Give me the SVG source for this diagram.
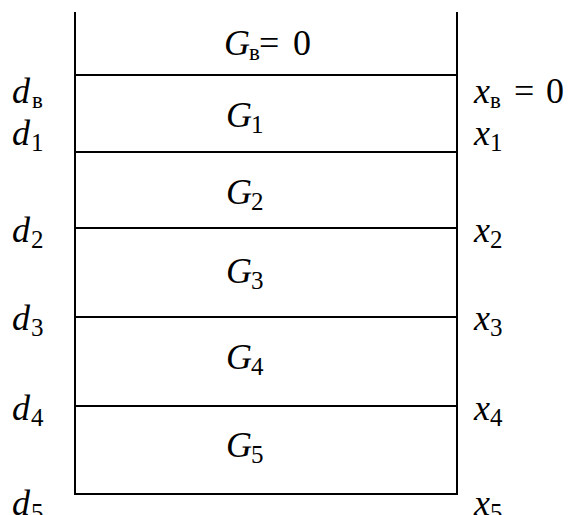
<svg xmlns="http://www.w3.org/2000/svg" width="569" height="515" viewBox="0 0 569 515">
<style>
  text { font-family: "Liberation Serif", "Times New Roman", serif; fill: #000; }
  .m { font-size: 36px; }
  .i { font-style: italic; }
  .n { font-style: normal; }
  .s { font-size: 25px; font-style: normal; }
  .c { font-size: 23px; font-style: normal; }
  .ln { stroke: #000; stroke-width: 2; fill: none; }
</style>
<rect width="569" height="515" fill="#fff"/>
<g id="connectors">
  <line class="ln" x1="75" y1="12" x2="75" y2="495"/>
  <line class="ln" x1="457" y1="12" x2="457" y2="495"/>
  <line class="ln" x1="75" y1="75" x2="457" y2="75"/>
  <line class="ln" x1="75" y1="152" x2="457" y2="152"/>
  <line class="ln" x1="75" y1="228" x2="457" y2="228"/>
  <line class="ln" x1="75" y1="317" x2="457" y2="317"/>
  <line class="ln" x1="75" y1="406" x2="457" y2="406"/>
  <line class="ln" x1="74" y1="494" x2="458" y2="494"/>
</g>
<g id="layer-top">
  <text class="m i" x="224" y="55">G<tspan class="c" x="249" y="60">в</tspan><tspan class="m n" x="259" y="55">=</tspan><tspan class="m n" x="293" y="55">0</tspan></text>
</g>
<g id="layer-1"><text class="m i" x="226" y="127">G<tspan class="s" x="251" y="133">1</tspan></text></g>
<g id="layer-2"><text class="m i" x="226" y="204">G<tspan class="s" x="251" y="210">2</tspan></text></g>
<g id="layer-3"><text class="m i" x="226" y="283">G<tspan class="s" x="251" y="289">3</tspan></text></g>
<g id="layer-4"><text class="m i" x="226" y="369">G<tspan class="s" x="251" y="375">4</tspan></text></g>
<g id="layer-5"><text class="m i" x="226" y="457">G<tspan class="s" x="251" y="463">5</tspan></text></g>
<g id="depth-labels">
  <text class="m i" x="12" y="103">d<tspan class="c" x="32" y="108">в</tspan></text>
  <text class="m i" x="12" y="145">d<tspan class="s" x="31" y="151">1</tspan></text>
  <text class="m i" x="12" y="242">d<tspan class="s" x="31" y="248">2</tspan></text>
  <text class="m i" x="12" y="330">d<tspan class="s" x="31" y="336">3</tspan></text>
  <text class="m i" x="12" y="420">d<tspan class="s" x="31" y="426">4</tspan></text>
  <text class="m i" x="12" y="515">d<tspan class="s" x="31" y="521">5</tspan></text>
</g>
<g id="x-labels">
  <text class="m i" x="474" y="103">x<tspan class="c" x="490" y="108">в</tspan><tspan class="m n" x="514" y="103">=</tspan><tspan class="m n" x="546" y="103">0</tspan></text>
  <text class="m i" x="474" y="145">x<tspan class="s" x="490" y="151">1</tspan></text>
  <text class="m i" x="474" y="242">x<tspan class="s" x="490" y="248">2</tspan></text>
  <text class="m i" x="474" y="330">x<tspan class="s" x="490" y="336">3</tspan></text>
  <text class="m i" x="474" y="420">x<tspan class="s" x="490" y="426">4</tspan></text>
  <text class="m i" x="474" y="515">x<tspan class="s" x="490" y="521">5</tspan></text>
</g>
</svg>
